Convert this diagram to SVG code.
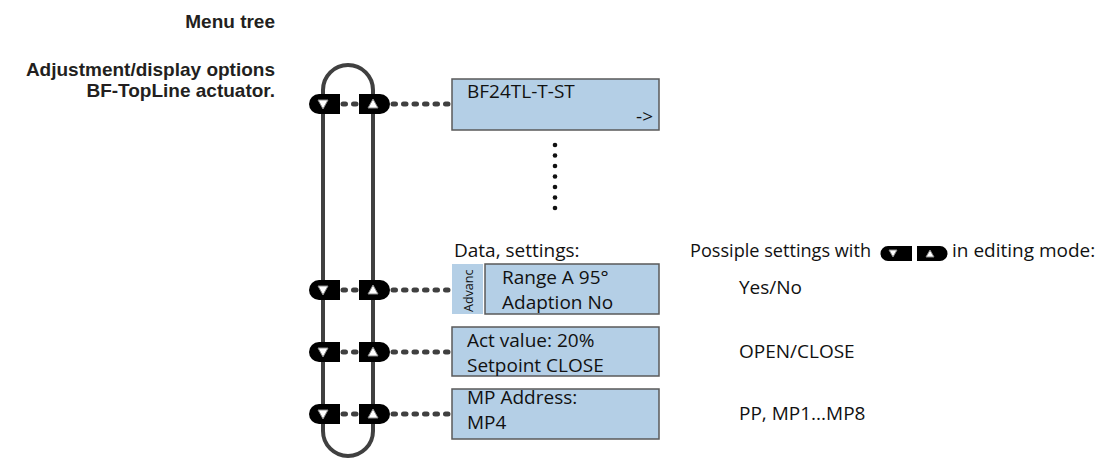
<svg xmlns="http://www.w3.org/2000/svg" width="1112" height="460" viewBox="0 0 1112 460">
<style>
.bg{fill:#ffffff}
.head{font-family:"Liberation Sans",Arial,sans-serif;font-weight:bold;font-size:19px;fill:#231f20;text-anchor:end}
.t{font-family:"Open Sans","Noto Sans","Liberation Sans",sans-serif;font-size:19px;fill:#111111}
.small{font-family:"Open Sans","Noto Sans","Liberation Sans",sans-serif;font-size:12.5px;fill:#111111}
.box{fill:#b4cfe6;stroke:#5a5a5a;stroke-width:1.5}
.side{fill:#b4cfe6}
.rail{fill:none;stroke:#404040;stroke-width:4}
.dots{fill:none;stroke:#404040;stroke-width:5;stroke-linecap:round;stroke-dasharray:2.5 8}
.vdot{fill:#111111}
.btn{fill:#000000}
.tri{fill:#ffffff;stroke:#8a8a8a;stroke-width:1}
</style>
<defs>
<g id="btnDown">
<path class="btn" d="M-4,-10 H17 V10 H-4 A10,10 0 0 1 -4,-10 Z"/>
<path class="tri" d="M-5,-4 H5 L0,5 Z"/>
</g>
<g id="btnUp">
<path class="btn" d="M-14,-10 H7 A10,10 0 0 1 7,10 H-14 Z"/>
<path class="tri" d="M-5,4 H5 L0,-5 Z"/>
</g>
</defs>
<rect class="bg" x="0" y="0" width="1112" height="460"/>

<g id="title">
<text class="head" x="275" y="28">Menu tree</text>
<text class="head" x="275" y="76">Adjustment/display options</text>
<text class="head" x="275" y="97">BF-TopLine actuator.</text>
</g>

<g id="connectors">
<path class="rail" d="M323,431 V90 A25,25 0 0 1 373,90 V431 A25,25 0 0 1 323,431"/>
<path class="dots" d="M343,104 H356 M393,104 H450"/>
<path class="dots" d="M343,290 H356 M393,290 H450"/>
<path class="dots" d="M343,352 H356 M393,352 H450"/>
<path class="dots" d="M343,414 H356 M393,414 H450"/>
<g id="ellipsis-dots">
<circle class="vdot" cx="555" cy="145" r="2.3"/>
<circle class="vdot" cx="555" cy="155.5" r="2.3"/>
<circle class="vdot" cx="555" cy="166" r="2.3"/>
<circle class="vdot" cx="555" cy="176.5" r="2.3"/>
<circle class="vdot" cx="555" cy="187" r="2.3"/>
<circle class="vdot" cx="555" cy="197.5" r="2.3"/>
<circle class="vdot" cx="555" cy="208" r="2.3"/>
</g>
</g>

<g id="buttons-row1">
<use href="#btnDown" transform="translate(323,104)"/>
<use href="#btnUp" transform="translate(373,104)"/>
</g>
<g id="buttons-row2">
<use href="#btnDown" transform="translate(323,290)"/>
<use href="#btnUp" transform="translate(373,290)"/>
</g>
<g id="buttons-row3">
<use href="#btnDown" transform="translate(323,352)"/>
<use href="#btnUp" transform="translate(373,352)"/>
</g>
<g id="buttons-row4">
<use href="#btnDown" transform="translate(323,414)"/>
<use href="#btnUp" transform="translate(373,414)"/>
</g>

<g id="node-start">
<rect class="box" x="452" y="79" width="207" height="51"/>
<text class="t" x="467" y="98">BF24TL-T-ST</text>
<text class="t" x="653" y="123" text-anchor="end">-&gt;</text>
</g>

<g id="node-advanced">
<text class="t" x="454" y="257">Data, settings:</text>
<rect class="side" x="452" y="264" width="31" height="50"/>
<text class="small" transform="translate(473,312) rotate(-90)">Advanc</text>
<rect class="box" x="485" y="264" width="174" height="50"/>
<text class="t" x="502" y="284">Range A 95°</text>
<text class="t" x="502" y="309">Adaption No</text>
</g>

<g id="node-act">
<rect class="box" x="452" y="327" width="207" height="49"/>
<text class="t" x="467" y="347">Act value: 20%</text>
<text class="t" x="467" y="372">Setpoint CLOSE</text>
</g>

<g id="node-mp">
<rect class="box" x="452" y="389" width="207" height="50"/>
<text class="t" x="467" y="404">MP Address:</text>
<text class="t" x="467" y="429">MP4</text>
</g>

<g id="legend">
<text class="t" x="690" y="257" textLength="181" lengthAdjust="spacingAndGlyphs">Possiple settings with</text>
<path class="btn" d="M888,246 H912 V261 H888 A7.5,7.5 0 0 1 888,246 Z"/>
<path class="tri" d="M889,250 H897 L893,257 Z"/>
<path class="btn" d="M917,246 H940 A7.5,7.5 0 0 1 940,261 H917 Z"/>
<path class="tri" d="M926,257 H934 L930,250 Z"/>
<text class="t" x="952" y="257">in editing mode:</text>
<text class="t" x="739" y="294">Yes/No</text>
<text class="t" x="739" y="358">OPEN/CLOSE</text>
<text class="t" x="739" y="420">PP, MP1...MP8</text>
</g>
</svg>
